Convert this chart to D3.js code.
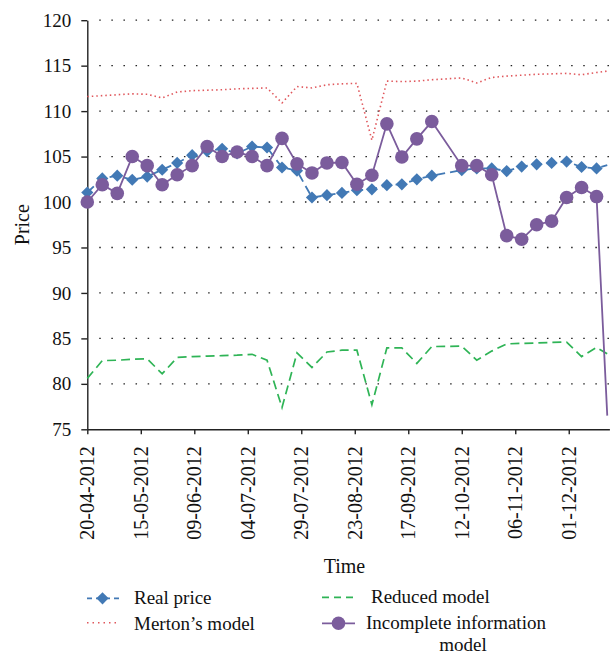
<!DOCTYPE html>
<html>
<head>
<meta charset="utf-8">
<script src="https://cdn.jsdelivr.net/npm/d3@7"></script>
<style>
  body { margin: 0; background: #fff; }
  svg { display: block; }
  text { font-family: "Liberation Serif", "Times New Roman", serif !important; fill: #111; }
</style>
</head>
<body>
<svg id="chart" width="612" height="654"></svg>
<script>
// Weekly observations (05-10-2012 missing, market holiday)
const dates = ["20-04-2012", "27-04-2012", "04-05-2012", "11-05-2012", "18-05-2012", "25-05-2012",
  "01-06-2012", "08-06-2012", "15-06-2012", "22-06-2012", "29-06-2012", "06-07-2012", "13-07-2012",
  "20-07-2012", "27-07-2012", "03-08-2012", "10-08-2012", "17-08-2012", "24-08-2012", "31-08-2012",
  "07-09-2012", "14-09-2012", "21-09-2012", "28-09-2012", "12-10-2012", "19-10-2012", "26-10-2012",
  "02-11-2012", "09-11-2012", "16-11-2012", "23-11-2012", "30-11-2012", "07-12-2012", "14-12-2012",
  "19-12-2012"];

const realPrice = [101.05, 102.6, 102.9, 102.45, 102.8, 103.55, 104.3, 105.15, 105.6, 105.85, 105.35, 106.1,
  106.0, 103.8, 103.45, 100.5, 100.75, 101.0, 101.3, 101.4, 101.85, 101.95, 102.5, 102.9,
  103.5, 103.7, 103.7, 103.4, 103.9, 104.15, 104.3, 104.45, 103.85, 103.7, 104.05];

const mertonModel = [111.6, 111.7, 111.8, 111.9, 111.85, 111.45, 112.1, 112.25, 112.3, 112.35, 112.45, 112.5,
  112.55, 110.9, 112.7, 112.55, 112.9, 113.0, 113.05, 106.8, 113.3, 113.25, 113.3, 113.45,
  113.65, 113.1, 113.7, 113.85, 113.95, 114.05, 114.1, 114.15, 114.0, 114.25, 114.4];

const reducedModel = [80.6, 82.55, 82.6, 82.7, 82.75, 81.1, 82.9, 83.0, 83.05, 83.1, 83.15, 83.25,
  82.6, 77.4, 83.4, 81.8, 83.5, 83.7, 83.7, 77.7, 83.95, 83.95, 82.25, 84.1,
  84.15, 82.6, 83.6, 84.4, 84.45, 84.5, 84.55, 84.6, 83.0, 84.0, 83.3];

const incompleteModel = [100.0, 101.9, 100.95, 105.0, 104.0, 101.9, 103.0, 104.0, 106.1, 105.0, 105.5, 105.0,
  104.0, 107.0, 104.2, 103.2, 104.3, 104.35, 101.95, 102.95, 108.6, 104.95, 106.95, 108.85,
  104.0, 104.0, 103.0, 96.3, 95.9, 97.5, 97.9, 100.5, 101.6, 100.6, 76.5];

const xTicks = ["20-04-2012", "15-05-2012", "09-06-2012", "04-07-2012", "29-07-2012",
  "23-08-2012", "17-09-2012", "12-10-2012", "06-11-2012", "01-12-2012"];
const yTicks = [75, 80, 85, 90, 95, 100, 105, 110, 115, 120];
const xDomain = ["20-04-2012", "20-12-2012"];

const parse = d3.timeParse("%d-%m-%Y");
const fmt = d3.timeFormat("%d-%m-%Y");
const serif = "'Liberation Serif', 'Times New Roman', serif";

const svg = d3.select("#chart");

const x = d3.scaleTime().domain(xDomain.map(parse)).range([87.3, 609.4]);
const y = d3.scaleLinear().domain([75, 120]).range([429.3, 20.2]);

// dotted horizontal grid
svg.append("g").selectAll("line")
  .data(yTicks.filter(v => v > 75))
  .enter().append("line")
  .attr("x1", 99.25).attr("x2", 612)
  .attr("y1", d => y(d)).attr("y2", d => y(d))
  .attr("stroke", "#222")
  .attr("stroke-width", 1.3)
  .attr("stroke-dasharray", "1.5,10.6");

// axes
const yAxis = svg.append("g")
  .attr("transform", `translate(${x.range()[0]},0)`)
  .call(d3.axisLeft(y).tickValues(yTicks).tickSize(6).tickSizeOuter(0).tickPadding(10));
yAxis.selectAll("text").style("font-size", "19px");

const xAxis = svg.append("g")
  .attr("transform", `translate(0,${y.range()[0]})`)
  .call(d3.axisBottom(x).tickValues(xTicks.map(parse)).tickFormat(fmt).tickSize(5).tickSizeOuter(0));
xAxis.selectAll("text")
  .style("font-size", "20px")
  .attr("text-anchor", "end")
  .attr("transform", "rotate(-90)")
  .attr("x", -17)
  .attr("y", 0)
  .attr("dy", "0.33em");

[yAxis, xAxis].forEach(a => {
  a.attr("font-family", serif);
  a.selectAll("path, line").attr("stroke", "#222").attr("stroke-width", 1.4);
});

// axis titles
svg.append("text")
  .attr("transform", "rotate(-90)")
  .attr("x", -224.7)
  .attr("y", 28.5)
  .attr("text-anchor", "middle")
  .style("font-size", "20px")
  .text("Price");

svg.append("text")
  .attr("x", 344.5)
  .attr("y", 573)
  .attr("text-anchor", "middle")
  .style("font-size", "20px")
  .text("Time");

// series
const pts = vals => vals.map((v, i) => ({date: parse(dates[i]), value: v}));
const line = d3.line().x(d => x(d.date)).y(d => y(d.value));

const colors = {real: "#4279b5", merton: "#e0575c", reduced: "#2fb456", incomplete: "#7b5c9c"};

svg.append("path").datum(pts(mertonModel))
  .attr("d", line).attr("fill", "none")
  .attr("stroke", colors.merton).attr("stroke-width", 1.6).attr("stroke-dasharray", "1.5,3");

svg.append("path").datum(pts(reducedModel))
  .attr("d", line).attr("fill", "none")
  .attr("stroke", colors.reduced).attr("stroke-width", 1.7).attr("stroke-dasharray", "9,5");

const realPts = pts(realPrice);
svg.append("path").datum(realPts)
  .attr("d", line).attr("fill", "none")
  .attr("stroke", colors.real).attr("stroke-width", 1.8).attr("stroke-dasharray", "9,5");

const diamond = d3.symbol().type(d3.symbolSquare).size(74);
// the last point sits on the frame edge and has no marker in the source
svg.append("g").selectAll("path")
  .data(realPts.slice(0, -1))
  .enter().append("path")
  .attr("d", diamond)
  .attr("transform", d => `translate(${x(d.date)},${y(d.value)}) rotate(45)`)
  .attr("fill", colors.real);

const incPts = pts(incompleteModel);
svg.append("path").datum(incPts)
  .attr("d", line).attr("fill", "none")
  .attr("stroke", colors.incomplete).attr("stroke-width", 1.8);

svg.append("g").selectAll("circle")
  .data(incPts.slice(0, -1))
  .enter().append("circle")
  .attr("cx", d => x(d.date))
  .attr("cy", d => y(d.value))
  .attr("r", 6.8)
  .attr("fill", colors.incomplete);

// legend
const legend = svg.append("g");

legend.append("line").attr("x1", 87).attr("x2", 120).attr("y1", 598.3).attr("y2", 598.3)
  .attr("stroke", colors.real).attr("stroke-width", 1.8).attr("stroke-dasharray", "5,4");
legend.append("path").attr("d", diamond)
  .attr("transform", "translate(102.5,598.3) rotate(45)").attr("fill", colors.real);
legend.append("text").attr("x", 134).attr("y", 603.5).style("font-size", "19px").text("Real price");

legend.append("line").attr("x1", 87).attr("x2", 120).attr("y1", 622.7).attr("y2", 622.7)
  .attr("stroke", colors.merton).attr("stroke-width", 1.4).attr("stroke-dasharray", "1.5,4");
legend.append("text").attr("x", 134).attr("y", 630).style("font-size", "19px").text("Merton’s model");

legend.append("line").attr("x1", 322).attr("x2", 354).attr("y1", 597.3).attr("y2", 597.3)
  .attr("stroke", colors.reduced).attr("stroke-width", 1.7).attr("stroke-dasharray", "7,5");
legend.append("text").attr("x", 371).attr("y", 603).style("font-size", "19px").text("Reduced model");

legend.append("line").attr("x1", 322).attr("x2", 355).attr("y1", 623.3).attr("y2", 623.3)
  .attr("stroke", colors.incomplete).attr("stroke-width", 1.8);
legend.append("circle").attr("cx", 338.5).attr("cy", 623.3).attr("r", 6.8).attr("fill", colors.incomplete);
legend.append("text").attr("x", 366).attr("y", 629).style("font-size", "19px").text("Incomplete information");
legend.append("text").attr("x", 463).attr("y", 651).attr("text-anchor", "middle")
  .style("font-size", "19px").text("model");
</script>
</body>
</html>
